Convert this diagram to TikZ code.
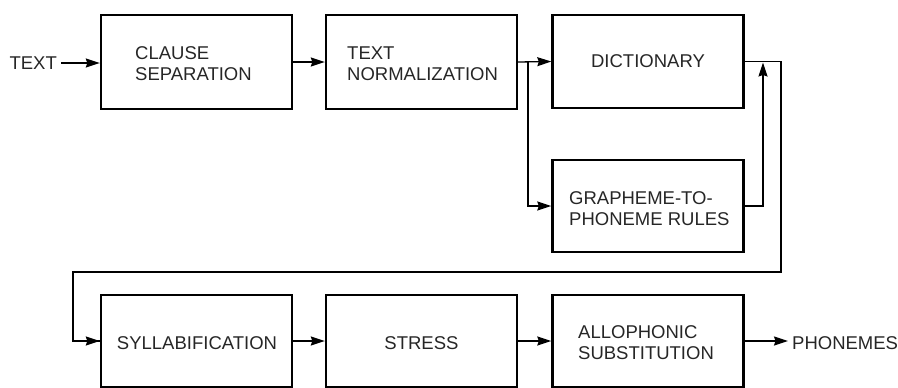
\documentclass[tikz,border=0pt]{standalone}
\usepackage{fontspec}
\setmainfont{Liberation Sans}
\usetikzlibrary{arrows.meta}
\begin{document}
\begin{tikzpicture}[x=1pt,y=-1pt,
  box/.style={draw, line width=2.4pt, minimum width=191pt, inner sep=0pt},
  lbl/.style={inner sep=0pt, align=left, font=\fontsize{18.5}{21}\selectfont, text=black!85},
  conn/.style={line width=1.3pt},
  arr/.style={conn, -{Stealth[length=14pt,width=9pt,inset=1.5pt]}}]
\useasboundingbox (0,0) rectangle (898,388);
% boxes
\node[box, minimum height=94pt] (b1) at (196.5,62) {};
\node[box, minimum height=94pt] (b2) at (421.5,62) {};
\node[box, minimum height=93pt] (b3) at (648,61.5) {};
\node[box, minimum height=92pt] (b4) at (648,206) {};
\node[box, minimum height=92pt] (b5) at (196.5,341) {};
\node[box, minimum height=92pt] (b6) at (421.5,341) {};
\node[box, minimum height=92pt] (b7) at (648,341) {};
% labels
\node[lbl, anchor=west] (t1) at (135,64) {CLAUSE\\SEPARATION};
\node[lbl, anchor=west] (t2) at (347,64) {TEXT\\NORMALIZATION};
\node[lbl] (t3) at (b3) {DICTIONARY};
\node[lbl, anchor=west] (t4) at (569,208.5) {GRAPHEME-TO-\\PHONEME RULES};
\node[lbl] (t5) at (197,343) {SYLLABIFICATION};
\node[lbl] (t6) at (421.5,343) {STRESS};
\node[lbl, anchor=west] (t7) at (578,343) {ALLOPHONIC\\SUBSTITUTION};
\node[lbl, inner sep=4pt, anchor=east] (in) at (61,63) {TEXT};
\node[lbl, inner sep=4pt, anchor=west] (out) at (788,343) {PHONEMES};
% connectors
\coordinate (br) at (528,62);
\coordinate (up) at (763,62.5);
\coordinate (c1) at (781,272);
\coordinate (c2) at (73,272);
\draw[arr] (in.east) -- (in.east -| b1.west);
\draw[arr] (b1.east) -- (b2.west);
\draw[arr] (b2.east) -- (b3.west);
\draw[arr] (br) |- (b4.west);
\draw[arr] (b4.east) -| (up);
\draw[conn] (b3.east) -| (c1) -- (c2) |- (b5.west);
\draw[arr] (c2 |- b5.west) -- (b5.west);
\draw[arr] (b5.east) -- (b6.west);
\draw[arr] (b6.east) -- (b7.west);
\draw[arr] (b7.east) -- (b7.east -| out.west);
\end{tikzpicture}
\end{document}
